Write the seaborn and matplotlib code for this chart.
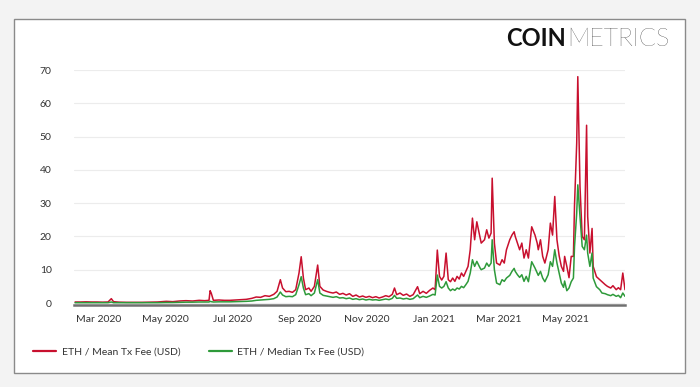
import pandas as pd
import matplotlib.pyplot as plt
import matplotlib.dates as mdates
import seaborn as sns
from matplotlib.patches import Rectangle
from matplotlib.lines import Line2D

# ── Data ────────────────────────────────────────────────────────────────────

dates = [
    "2020-02-09", "2020-02-14", "2020-02-19", "2020-02-24", "2020-02-29",
    "2020-03-05", "2020-03-10", "2020-03-13", "2020-03-15", "2020-03-20",
    "2020-03-27", "2020-04-03", "2020-04-10", "2020-04-17", "2020-04-24",
    "2020-05-02", "2020-05-08", "2020-05-14", "2020-05-20", "2020-05-26",
    "2020-06-01", "2020-06-06", "2020-06-10", "2020-06-11", "2020-06-12",
    "2020-06-14", "2020-06-19", "2020-06-24", "2020-06-29", "2020-07-04",
    "2020-07-09", "2020-07-14", "2020-07-19", "2020-07-23", "2020-07-27",
    "2020-07-31", "2020-08-04", "2020-08-08", "2020-08-11", "2020-08-14",
    "2020-08-16", "2020-08-19", "2020-08-22", "2020-08-25", "2020-08-28",
    "2020-08-31", "2020-09-02", "2020-09-04", "2020-09-06", "2020-09-09",
    "2020-09-11", "2020-09-14", "2020-09-17", "2020-09-19", "2020-09-22",
    "2020-09-25", "2020-09-28", "2020-10-01", "2020-10-04", "2020-10-07",
    "2020-10-10", "2020-10-13", "2020-10-16", "2020-10-19", "2020-10-22",
    "2020-10-25", "2020-10-28", "2020-10-31", "2020-11-03", "2020-11-06",
    "2020-11-09", "2020-11-12", "2020-11-15", "2020-11-18", "2020-11-21",
    "2020-11-24", "2020-11-26", "2020-11-28", "2020-12-01", "2020-12-04",
    "2020-12-07", "2020-12-10", "2020-12-13", "2020-12-17", "2020-12-19",
    "2020-12-22", "2020-12-25", "2020-12-28", "2020-12-31", "2021-01-02",
    "2021-01-04", "2021-01-06", "2021-01-08", "2021-01-10", "2021-01-12",
    "2021-01-14", "2021-01-16", "2021-01-18", "2021-01-20", "2021-01-22",
    "2021-01-24", "2021-01-26", "2021-01-28", "2021-01-30", "2021-02-01",
    "2021-02-03", "2021-02-05", "2021-02-07", "2021-02-09", "2021-02-12",
    "2021-02-13", "2021-02-16", "2021-02-18", "2021-02-20", "2021-02-22",
    "2021-02-23", "2021-02-25", "2021-02-27", "2021-03-02", "2021-03-04",
    "2021-03-06", "2021-03-08", "2021-03-11", "2021-03-13", "2021-03-15",
    "2021-03-16", "2021-03-18", "2021-03-20", "2021-03-22", "2021-03-24",
    "2021-03-26", "2021-03-28", "2021-03-31", "2021-04-03", "2021-04-05",
    "2021-04-06", "2021-04-08", "2021-04-10", "2021-04-12", "2021-04-15",
    "2021-04-17", "2021-04-19", "2021-04-21", "2021-04-23", "2021-04-25",
    "2021-04-27", "2021-04-29", "2021-04-30", "2021-05-02", "2021-05-04",
    "2021-05-06", "2021-05-08", "2021-05-09", "2021-05-11", "2021-05-12",
    "2021-05-14", "2021-05-16", "2021-05-18", "2021-05-20", "2021-05-21",
    "2021-05-23", "2021-05-25", "2021-05-26", "2021-05-29", "2021-06-01",
    "2021-06-03", "2021-06-06", "2021-06-08", "2021-06-11", "2021-06-13",
    "2021-06-16", "2021-06-18", "2021-06-20", "2021-06-22", "2021-06-24",
]

mean_fee = [
    0.3, 0.3, 0.35, 0.3, 0.3,
    0.25, 0.3, 1.3, 0.4, 0.25,
    0.2, 0.2, 0.2, 0.25, 0.3,
    0.5, 0.4, 0.6, 0.7, 0.6,
    0.8, 0.7, 0.8, 3.7, 3.0,
    0.8, 0.9, 0.8, 0.8, 0.9,
    1.0, 1.1, 1.4, 1.8, 1.7,
    2.2, 2.0, 2.6, 3.5, 7.0,
    4.5, 3.4, 3.5, 3.2, 4.0,
    9.0, 13.9, 7.5, 4.0, 4.5,
    3.5, 5.0, 11.4, 5.0, 3.9,
    3.5, 3.2, 3.0, 3.3, 2.6,
    2.9, 2.4, 2.8, 2.0, 2.4,
    1.8, 2.1, 1.7, 2.0, 1.6,
    1.9, 1.5, 1.8, 2.2, 1.9,
    2.6, 4.5, 2.5, 3.0, 2.3,
    2.7, 2.0, 2.5, 4.9, 2.8,
    3.5, 2.9, 3.8, 4.5, 4.0,
    15.9, 8.0, 6.9, 8.0, 15.0,
    7.0, 6.4, 7.5, 6.5, 8.0,
    7.2, 9.0, 8.0, 9.5, 11.0,
    16.0, 25.5, 19.0, 24.4, 19.5,
    18.0, 19.0, 22.0, 19.5, 21.0,
    37.5, 18.0, 12.0, 11.4, 13.0,
    12.0, 16.0, 19.0, 20.4, 21.4,
    20.0, 18.0, 16.0, 18.0, 13.5,
    16.0, 13.5, 22.9, 20.4, 18.0,
    16.0, 19.0, 14.0, 12.0, 16.0,
    24.0, 20.4, 32.0, 19.0, 14.2,
    11.0, 9.5, 14.0, 11.0, 7.6,
    14.0, 14.0, 29.4, 48.0, 68.0,
    35.0, 20.0, 19.0, 53.4, 26.0,
    15.0, 22.4, 11.0, 7.9, 7.0,
    6.4, 5.5, 5.0, 4.5, 5.2,
    4.0, 4.6, 4.0, 9.0, 4.0,
]

median_fee = [
    0.1, 0.1, 0.1, 0.1, 0.1,
    0.1, 0.1, 0.3, 0.1, 0.1,
    0.08, 0.08, 0.08, 0.1, 0.1,
    0.15, 0.15, 0.2, 0.25, 0.25,
    0.3, 0.3, 0.3, 0.5, 0.4,
    0.3, 0.35, 0.35, 0.35, 0.4,
    0.45, 0.5, 0.6, 0.8, 0.9,
    1.0, 1.1, 1.3, 1.8, 3.3,
    2.4, 1.9, 2.0, 1.9, 2.5,
    5.5, 7.9, 4.5, 2.5, 2.8,
    2.2, 3.0, 7.0, 3.0, 2.3,
    2.1, 1.9, 1.7, 1.9, 1.5,
    1.6, 1.3, 1.5, 1.1, 1.3,
    1.0, 1.2, 0.9, 1.1, 0.9,
    1.0, 0.8, 1.0, 1.2, 1.0,
    1.4, 2.3, 1.4, 1.5, 1.2,
    1.4, 1.1, 1.3, 2.4, 1.6,
    2.0, 1.7, 2.1, 2.6, 2.4,
    8.4, 5.0, 4.5, 5.0, 6.4,
    4.5, 3.7, 4.2, 3.8, 4.5,
    4.2, 5.0, 4.6, 5.5, 6.5,
    9.0, 13.0, 11.0, 12.5, 10.5,
    10.0, 10.5, 12.0, 11.0, 12.0,
    19.0, 10.0, 6.0, 5.5, 7.0,
    6.5, 7.5, 8.3, 9.5, 10.4,
    9.5, 8.5, 7.7, 8.5, 6.5,
    8.0, 6.4, 12.4, 10.5, 9.0,
    8.3, 9.5, 7.5, 6.4, 8.5,
    12.4, 11.0, 16.0, 12.0, 9.0,
    6.0, 4.7, 6.6, 3.7, 4.5,
    6.4, 7.5, 16.9, 27.0, 35.5,
    26.0, 17.0, 16.0, 20.4, 15.0,
    11.0, 15.0, 7.5, 4.9, 4.0,
    3.0, 2.8, 2.5, 2.2, 2.6,
    2.0, 2.3, 1.6, 3.0, 2.0,
]

SERIES = ["ETH / Mean Tx Fee (USD)", "ETH / Median Tx Fee (USD)"]
COLORS = ["#c8102e", "#2e9a3a"]

df = pd.DataFrame({"date": pd.to_datetime(dates), SERIES[0]: mean_fee, SERIES[1]: median_fee})
long = df.melt(id_vars="date", var_name="series", value_name="fee")

# ── Plot ────────────────────────────────────────────────────────────────────

sns.set_style("white")
plt.rcParams["font.family"] = ["Lato", "DejaVu Sans"]

fig = plt.figure(figsize=(7, 3.87), dpi=100, facecolor="#f3f3f3")

# white card with a grey frame (behind the axes)
fig.patches.append(Rectangle((14 / 700, 1 - 373 / 387), 671 / 700, 354 / 387,
                             transform=fig.transFigure, facecolor="white",
                             edgecolor="#8a8a8a", linewidth=1.0, zorder=-5))

ax = fig.add_axes([74 / 700, 1 - 305 / 387, 551 / 700, 235 / 387])
ax.set_zorder(2)
ax.set_facecolor("none")

sns.lineplot(data=long, x="date", y="fee", hue="series", hue_order=SERIES,
             palette=COLORS, linewidth=1.1, ax=ax, legend=False)

ax.set_xlim(pd.Timestamp("2020-02-08"), pd.Timestamp("2021-06-24"))
ax.set_ylim(-0.6, 70)
ax.set_yticks(range(0, 71, 10))
ax.xaxis.set_major_locator(mdates.MonthLocator(bymonth=[1, 3, 5, 7, 9, 11]))
ax.xaxis.set_major_formatter(mdates.DateFormatter("%b %Y"))

ax.grid(axis="y", color="#ececec", linewidth=0.8)
ax.set_axisbelow(True)
for side in ["top", "right", "left"]:
    ax.spines[side].set_visible(False)
ax.spines["bottom"].set_color("#707070")
ax.spines["bottom"].set_linewidth(1.8)
ax.tick_params(axis="both", length=0, labelsize=7.5, labelcolor="#333333")
ax.tick_params(axis="y", pad=16)
ax.tick_params(axis="x", pad=7)
ax.set_xlabel("")
ax.set_ylabel("")

# legend
handles = [Line2D([0], [0], color=c, linewidth=1.6) for c in COLORS]
fig.legend(handles, SERIES, loc="center left", bbox_to_anchor=(24 / 700, 1 - 352 / 387),
           ncol=2, frameon=False, fontsize=7.5, handlelength=2.2, handletextpad=0.5,
           columnspacing=2.8, labelcolor="#333333")

# logo text
fig.text(566 / 700, 1 - 39 / 387, "COIN", ha="right", va="center",
         fontsize=17, fontweight="bold", color="#111111")
fig.text(567 / 700, 1 - 39 / 387, "METRICS", ha="left", va="center",
         fontsize=18, fontweight="light", color="#000000")

fig.savefig("out.png", dpi=100, facecolor=fig.get_facecolor())
